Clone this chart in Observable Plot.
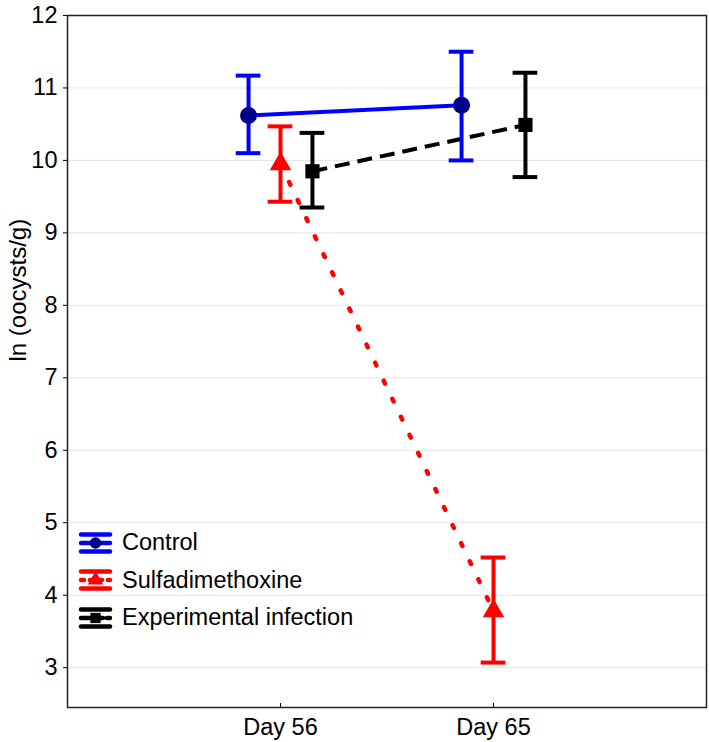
<!DOCTYPE html>
<html><head><meta charset="utf-8">
<script src="https://cdn.jsdelivr.net/npm/d3@7"></script>
<script src="https://cdn.jsdelivr.net/npm/@observablehq/plot@0.6"></script>
<style>
body{margin:0;background:#fff;font-family:"Liberation Sans",Arial,sans-serif;}
#wrap{position:relative;width:709px;height:742px;}
#legend{position:absolute;left:78px;top:524px;}
.item{display:flex;align-items:center;height:37.5px;font-size:23.5px;color:#000;}
.item svg{margin-right:9px;}
</style></head><body><div id="wrap"><div id="legend"></div></div>
<script>
const days = ["Day 56", "Day 65"];
const groups = ["Control", "Sulfadimethoxine", "Experimental infection"];
const controlMean = [10.62, 10.76];
const controlLow = [10.10, 10.00];
const controlHigh = [11.17, 11.50];
const sulfaMean = [9.95, 3.78];
const sulfaLow = [9.43, 3.07];
const sulfaHigh = [10.47, 4.52];
const expMean = [9.85, 10.49];
const expLow = [9.35, 9.77];
const expHigh = [10.38, 11.21];
const yTicks = [3, 4, 5, 6, 7, 8, 9, 10, 11, 12];

const styles = {
  "Control": {color: "#0000ff", fill: "#00008b", symbol: "circle", r: 8.5, dash: null, cap: "butt", width: 4, legendDash: null, dodge: -0.15},
  "Sulfadimethoxine": {color: "#ff0000", fill: "#ff0000", symbol: "triangle", r: 8, dash: "3,17", cap: "round", width: 4.5, legendDash: "3,6", dodge: 0},
  "Experimental infection": {color: "#000000", fill: "#000000", symbol: "square", r: 8, dash: "15,8", cap: "butt", width: 4, legendDash: "9,4", dodge: 0.15}
};
const series = {
  "Control": [controlMean, controlLow, controlHigh],
  "Sulfadimethoxine": [sulfaMean, sulfaLow, sulfaHigh],
  "Experimental infection": [expMean, expLow, expHigh]
};
const capHalf = 0.058;
const FS = 23.5;

const marks = [
  Plot.gridY(yTicks, {stroke: "#e4e4e4", strokeOpacity: 1}),
  Plot.axisY(yTicks, {tickSize: 4, tickPadding: 6, fontSize: FS, label: null, tickFormat: "d"}),
  Plot.axisX([1, 2], {tickSize: -4, tickPadding: 15, fontSize: FS, label: null, tickFormat: d => days[d - 1]}),
  Plot.text(["ln (oocysts/g)"], {frameAnchor: "left", text: d => d, rotate: -90, dx: -49, fontSize: 24})
];
const rowsOf = g => {
  const s = styles[g];
  const [mean, low, high] = series[g];
  return days.map((d, i) => ({x: i + 1 + s.dodge, mean: mean[i], low: low[i], high: high[i]}));
};
for (const g of groups) {
  const s = styles[g];
  marks.push(Plot.line(rowsOf(g), {x: "x", y: "mean", stroke: s.color, strokeWidth: s.width, strokeDasharray: s.dash, strokeLinecap: s.cap}));
}
for (const g of groups) {
  const s = styles[g];
  const rows = rowsOf(g);
  marks.push(
    Plot.ruleX(rows, {x: "x", y1: "low", y2: "high", stroke: s.color, strokeWidth: 4}),
    Plot.ruleY(rows, {y: "low", x1: d => d.x - capHalf, x2: d => d.x + capHalf, stroke: s.color, strokeWidth: 4}),
    Plot.ruleY(rows, {y: "high", x1: d => d.x - capHalf, x2: d => d.x + capHalf, stroke: s.color, strokeWidth: 4}),
    Plot.dot(rows, {x: "x", y: "mean", symbol: s.symbol, r: s.r, fill: s.fill, stroke: "none"})
  );
}
marks.push(Plot.frame({stroke: "#222", strokeWidth: 1.5}));

const chart = Plot.plot({
  width: 709, height: 742,
  marginLeft: 67, marginRight: 3, marginTop: 15, marginBottom: 35,
  style: {fontFamily: "'Liberation Sans', Arial, sans-serif", fontSize: FS + "px", color: "#000", background: "#fff"},
  x: {type: "linear", domain: [0, 3], axis: null},
  y: {domain: [2.45, 12], axis: null},
  marks
});
const wrap = document.getElementById("wrap");
wrap.insertBefore(chart, wrap.firstChild);

const legend = document.getElementById("legend");
for (const g of groups) {
  const s = styles[g];
  const item = document.createElement("div");
  item.className = "item";
  const sym = s.symbol === "circle" ? d3.symbolCircle : s.symbol === "triangle" ? d3.symbolTriangle : d3.symbolSquare;
  const path = d3.symbol(sym, 105)();
  item.innerHTML = `<svg width="35" height="26" viewBox="0 0 35 26">
    <line x1="3" x2="32" y1="4.5" y2="4.5" stroke="${s.color}" stroke-width="4.5" stroke-linecap="round"/>
    <line x1="3" x2="32" y1="21.5" y2="21.5" stroke="${s.color}" stroke-width="4.5" stroke-linecap="round"/>
    <line x1="3" x2="32" y1="13" y2="13" stroke="${s.color}" stroke-width="4.5" stroke-linecap="round" ${s.legendDash ? `stroke-dasharray="${s.legendDash}"` : ""}/>
    <path d="${path}" transform="translate(17.5,13)" fill="${s.fill}"/>
  </svg><span>${g}</span>`;
  legend.appendChild(item);
}
</script></body></html>
